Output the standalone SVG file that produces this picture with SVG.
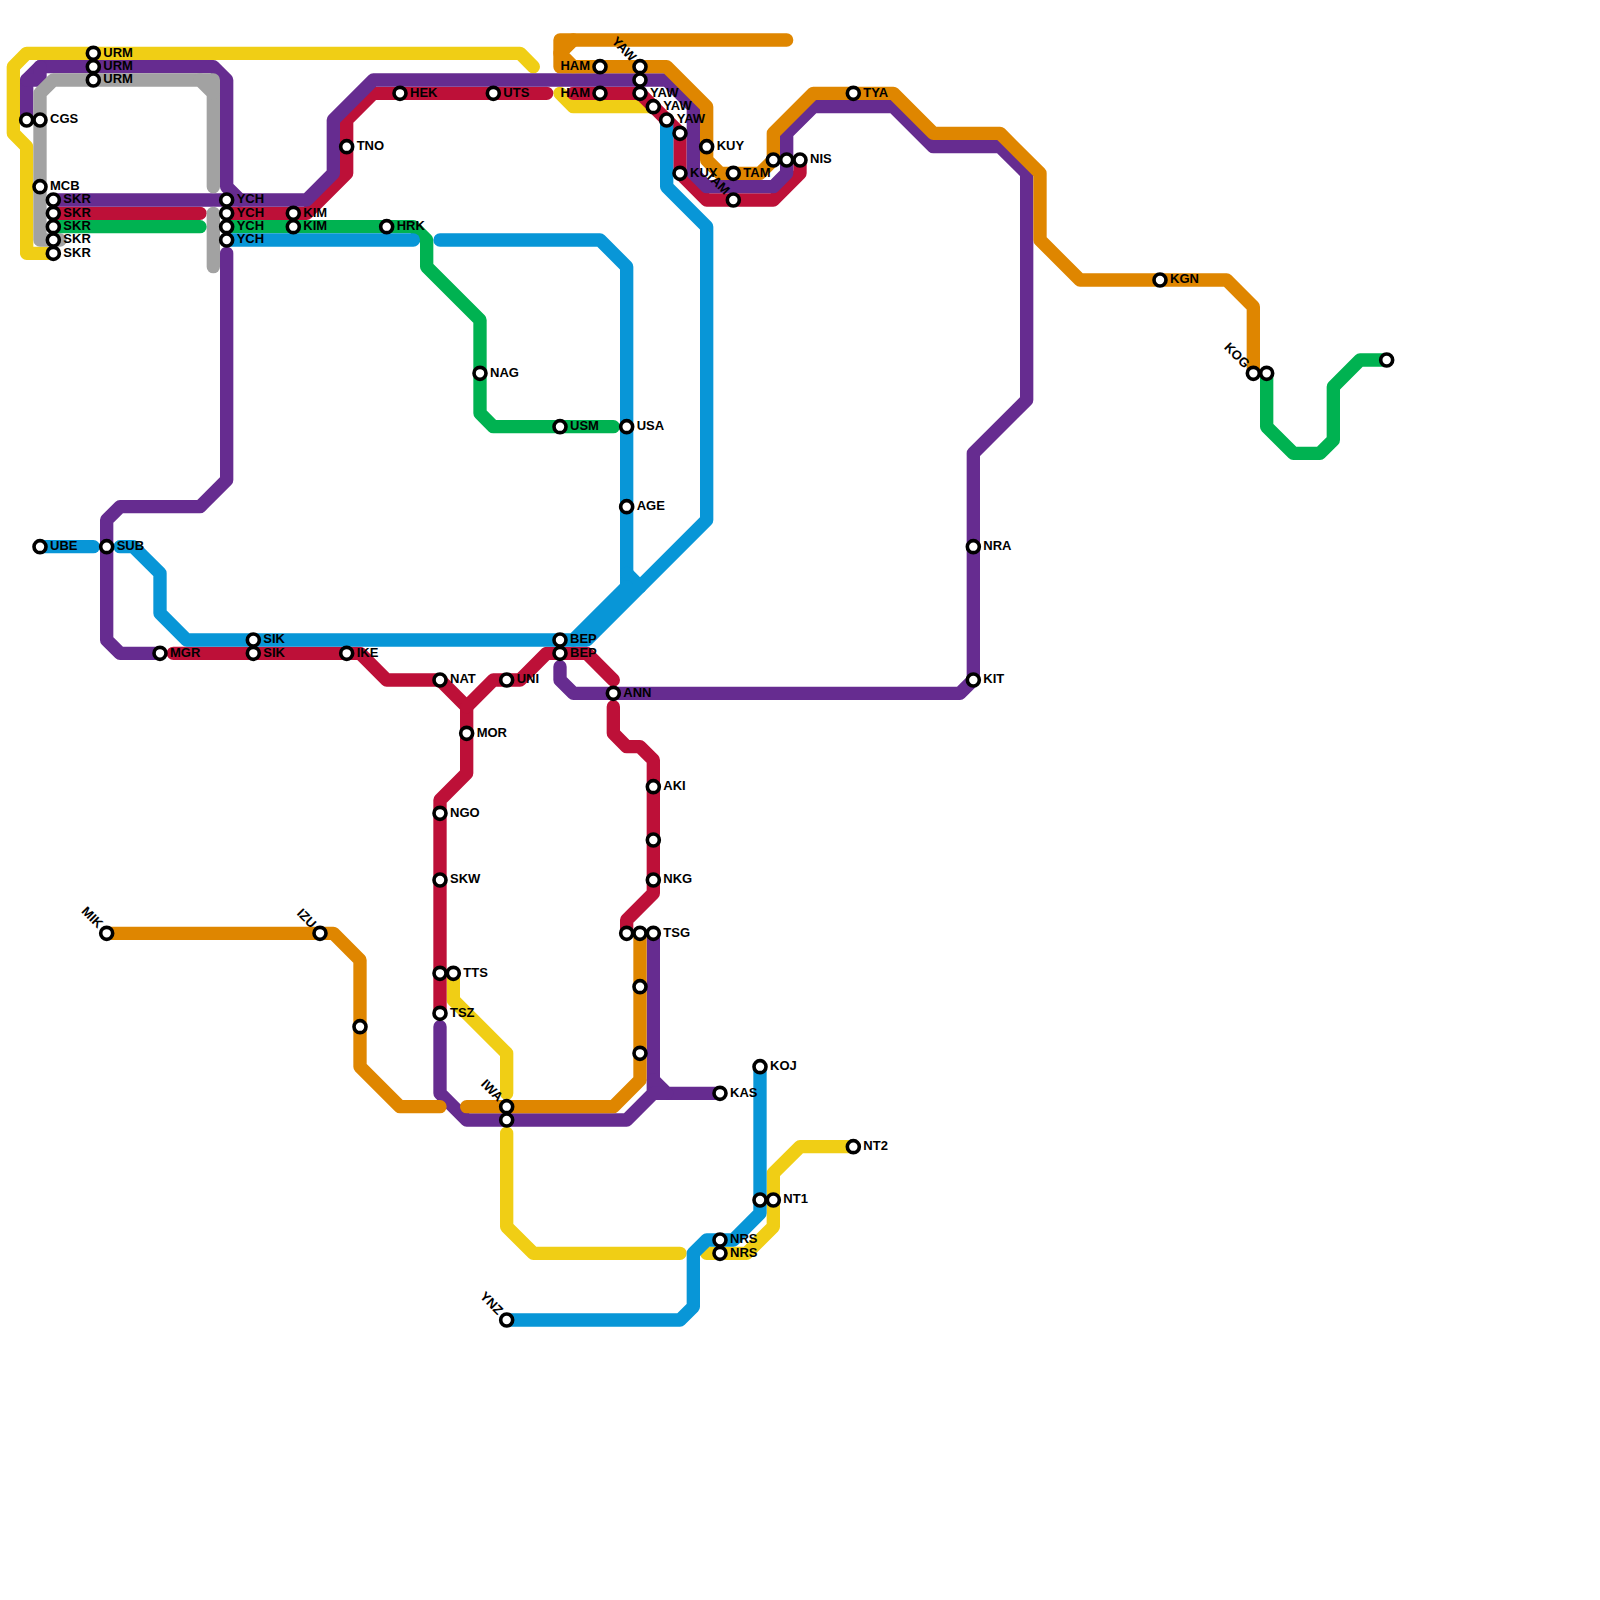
<svg xmlns="http://www.w3.org/2000/svg" width="1600" height="1600" viewBox="0 0 1600 1600">
<style>
text{font-family:"Liberation Sans",Arial,sans-serif;font-weight:700;font-size:13px;fill:#000}
circle{fill:#fff;stroke:#000;stroke-width:3.6}
.l{fill:none;stroke-width:1;stroke-linecap:round;stroke-linejoin:round}
.y{stroke:#f0ce15}.a{stroke:#a2a2a2}.r{stroke:#bd1038}.p{stroke:#662c90}.g{stroke:#00b251}.b{stroke:#0896d7}.o{stroke:#df8600}
.e{text-anchor:end}
</style>
<rect width="1600" height="1600" fill="#fff"/>
<g id="connectors" transform="scale(13.33333)">
<g id="line-yellow" class="l y">
<path d="M4 19H2V11L1 10V5L2 4H39L40 5"/>
<path d="M42 7L43 8H49"/>
<path d="M34 73V75L38 79V82"/>
<path d="M38 85V92L40 94H51"/>
<path d="M64 86H60L58 88V92L56 94H53"/>
</g>
<g id="line-red" class="l r">
<path d="M4 16H15"/>
<path d="M17 16H23L26 13V9L28 7H41"/>
<path d="M43 7H48L51 10V13L53 15H58L60 13V12"/>
<path d="M13 49H27L29 51H33L35 53V58L33 60V76"/>
<path d="M35 53L37 51H39L41 49H44L46 51"/>
<path d="M46 53V55L47 56H48L49 57V67L47 69V70"/>
</g>
<g id="line-purple" class="l p">
<path d="M2 9V6L3 5H16L17 6V14L18 15"/>
<path d="M2 6H3V5"/>
<path d="M4 15H23L25 13V9L28 6H50L52 8V13L53 14H58L59 13V10L61 8H67L70 11H75L77 13V30L73 34V51L72 52H43L42 51V50"/>
<path d="M17 19V36L15 38H9L8 39V48L9 49H12"/>
<path d="M33 77V82L35 84H47L49 82V70"/>
<path d="M49 81L50 82H54"/>
<path d="M49 82H50"/>
</g>
<g id="line-silver" class="l a">
<path d="M4.5 18H3V7L4 6H15L16 7V14"/>
<path d="M15 6H16V7"/>
<path d="M16 16V20"/>
</g>
<g id="line-green" class="l g">
<path d="M4 17H15"/>
<path d="M17 17H31L32 18V20L36 24V31L37 32H46"/>
<path d="M95 28V32L97 34H99L100 33V29L102 27H104"/>
</g>
<g id="line-blue" class="l b">
<path d="M17 18H31"/>
<path d="M33 18H45L47 20V44"/>
<path d="M47 43L48 44"/>
<path d="M3 41H7"/>
<path d="M9 41H10L12 43V46L14 48H43L47 44"/>
<path d="M50 9V14L53 17V39L44 48H43"/>
<path d="M57 80V91L55 93H53L52 94V98L51 99H38"/>
</g>
<g id="line-orange" class="l o">
<path d="M59 3H42V5H50L53 8V12L54 13H57L58 12V10L61 7H67L70 10H75L78 13V18L81 21H92L94 23V28"/>
<path d="M43 3L42 4L43 5"/>
<path d="M8 70H25L27 72V80L30 83H33"/>
<path d="M48 70V81L46 83H35"/>
</g>
</g>
<g id="nodes">
<g id="URM1" transform="translate(93.33,53.33)"><circle r="6"/><text x="10" y="3.4">URM</text></g>
<g id="URM2" transform="translate(93.33,66.67)"><circle r="6"/><text x="10" y="3.4">URM</text></g>
<g id="URM3" transform="translate(93.33,80)"><circle r="6"/><text x="10" y="3.4">URM</text></g>
<g id="CGS0" transform="translate(26.67,120)"><circle r="6"/></g>
<g id="CGS" transform="translate(40,120)"><circle r="6"/><text x="10" y="3.4">CGS</text></g>
<g id="MCB" transform="translate(40,186.67)"><circle r="6"/><text x="10" y="3.4">MCB</text></g>
<g id="SKR1" transform="translate(53.33,200)"><circle r="6"/><text x="10" y="3.4">SKR</text></g>
<g id="SKR2" transform="translate(53.33,213.33)"><circle r="6"/><text x="10" y="3.4">SKR</text></g>
<g id="SKR3" transform="translate(53.33,226.67)"><circle r="6"/><text x="10" y="3.4">SKR</text></g>
<g id="SKR4" transform="translate(53.33,240)"><circle r="6"/><text x="10" y="3.4">SKR</text></g>
<g id="SKR5" transform="translate(53.33,253.33)"><circle r="6"/><text x="10" y="3.4">SKR</text></g>
<g id="YCH1" transform="translate(226.67,200)"><circle r="6"/><text x="10" y="3.4">YCH</text></g>
<g id="YCH2" transform="translate(226.67,213.33)"><circle r="6"/><text x="10" y="3.4">YCH</text></g>
<g id="YCH3" transform="translate(226.67,226.67)"><circle r="6"/><text x="10" y="3.4">YCH</text></g>
<g id="YCH4" transform="translate(226.67,240)"><circle r="6"/><text x="10" y="3.4">YCH</text></g>
<g id="KIM1" transform="translate(293.33,213.33)"><circle r="6"/><text x="10" y="3.4">KIM</text></g>
<g id="KIM2" transform="translate(293.33,226.67)"><circle r="6"/><text x="10" y="3.4">KIM</text></g>
<g id="HRK" transform="translate(386.67,226.67)"><circle r="6"/><text x="10" y="3.4">HRK</text></g>
<g id="TNO" transform="translate(346.67,146.67)"><circle r="6"/><text x="10" y="3.4">TNO</text></g>
<g id="HEK" transform="translate(400,93.33)"><circle r="6"/><text x="10" y="3.4">HEK</text></g>
<g id="UTS" transform="translate(493.33,93.33)"><circle r="6"/><text x="10" y="3.4">UTS</text></g>
<g id="HAM1" transform="translate(600,66.67)"><circle r="6"/><text class="e" x="-10" y="3.4">HAM</text></g>
<g id="HAM2" transform="translate(600,93.33)"><circle r="6"/><text class="e" x="-10" y="3.4">HAM</text></g>
<g id="YAW1" transform="translate(640,66.67)"><circle r="6"/><text class="e" transform="translate(-9,-4.5) rotate(45)">YAW</text></g>
<g id="YAW2" transform="translate(640,80)"><circle r="6"/></g>
<g id="YAW3" transform="translate(640,93.33)"><circle r="6"/><text x="10" y="3.4">YAW</text></g>
<g id="YAW4" transform="translate(653.33,106.67)"><circle r="6"/><text x="10" y="3.4">YAW</text></g>
<g id="YAW5" transform="translate(666.67,120)"><circle r="6"/><text x="10" y="3.4">YAW</text></g>
<g id="YAW6" transform="translate(680,133.33)"><circle r="6"/></g>
<g id="KUY1" transform="translate(706.67,146.67)"><circle r="6"/><text x="10" y="3.4">KUY</text></g>
<g id="KUY2" transform="translate(680,173.33)"><circle r="6"/><text x="10" y="3.4">KUY</text></g>
<g id="TAM1" transform="translate(733.33,173.33)"><circle r="6"/><text x="10" y="3.4">TAM</text></g>
<g id="TAM2" transform="translate(733.33,200)"><circle r="6"/><text class="e" transform="translate(-9,-4.5) rotate(45)">TAM</text></g>
<g id="NIS1" transform="translate(773.33,160)"><circle r="6"/></g>
<g id="NIS2" transform="translate(786.67,160)"><circle r="6"/></g>
<g id="NIS3" transform="translate(800,160)"><circle r="6"/><text x="10" y="3.4">NIS</text></g>
<g id="TYA" transform="translate(853.33,93.33)"><circle r="6"/><text x="10" y="3.4">TYA</text></g>
<g id="KGN" transform="translate(1160,280)"><circle r="6"/><text x="10" y="3.4">KGN</text></g>
<g id="KOG1" transform="translate(1253.33,373.33)"><circle r="6"/><text class="e" transform="translate(-9,-4.5) rotate(45)">KOG</text></g>
<g id="KOG2" transform="translate(1266.67,373.33)"><circle r="6"/></g>
<g id="G-END" transform="translate(1386.67,360)"><circle r="6"/></g>
<g id="NAG" transform="translate(480,373.33)"><circle r="6"/><text x="10" y="3.4">NAG</text></g>
<g id="USM" transform="translate(560,426.67)"><circle r="6"/><text x="10" y="3.4">USM</text></g>
<g id="USA" transform="translate(626.67,426.67)"><circle r="6"/><text x="10" y="3.4">USA</text></g>
<g id="AGE" transform="translate(626.67,506.67)"><circle r="6"/><text x="10" y="3.4">AGE</text></g>
<g id="NRA" transform="translate(973.33,546.67)"><circle r="6"/><text x="10" y="3.4">NRA</text></g>
<g id="KIT" transform="translate(973.33,680)"><circle r="6"/><text x="10" y="3.4">KIT</text></g>
<g id="UBE" transform="translate(40,546.67)"><circle r="6"/><text x="10" y="3.4">UBE</text></g>
<g id="SUB" transform="translate(106.67,546.67)"><circle r="6"/><text x="10" y="3.4">SUB</text></g>
<g id="SIK1" transform="translate(253.33,640)"><circle r="6"/><text x="10" y="3.4">SIK</text></g>
<g id="SIK2" transform="translate(253.33,653.33)"><circle r="6"/><text x="10" y="3.4">SIK</text></g>
<g id="MGR" transform="translate(160,653.33)"><circle r="6"/><text x="10" y="3.4">MGR</text></g>
<g id="IKE" transform="translate(346.67,653.33)"><circle r="6"/><text x="10" y="3.4">IKE</text></g>
<g id="BEP1" transform="translate(560,640)"><circle r="6"/><text x="10" y="3.4">BEP</text></g>
<g id="BEP2" transform="translate(560,653.33)"><circle r="6"/><text x="10" y="3.4">BEP</text></g>
<g id="NAT" transform="translate(440,680)"><circle r="6"/><text x="10" y="3.4">NAT</text></g>
<g id="UNI" transform="translate(506.67,680)"><circle r="6"/><text x="10" y="3.4">UNI</text></g>
<g id="MOR" transform="translate(466.67,733.33)"><circle r="6"/><text x="10" y="3.4">MOR</text></g>
<g id="NGO" transform="translate(440,813.33)"><circle r="6"/><text x="10" y="3.4">NGO</text></g>
<g id="SKW" transform="translate(440,880)"><circle r="6"/><text x="10" y="3.4">SKW</text></g>
<g id="TTS0" transform="translate(440,973.33)"><circle r="6"/></g>
<g id="TTS" transform="translate(453.33,973.33)"><circle r="6"/><text x="10" y="3.4">TTS</text></g>
<g id="TSZ" transform="translate(440,1013.33)"><circle r="6"/><text x="10" y="3.4">TSZ</text></g>
<g id="ANN" transform="translate(613.33,693.33)"><circle r="6"/><text x="10" y="3.4">ANN</text></g>
<g id="AKI" transform="translate(653.33,786.67)"><circle r="6"/><text x="10" y="3.4">AKI</text></g>
<g id="R63" transform="translate(653.33,840)"><circle r="6"/></g>
<g id="NKG" transform="translate(653.33,880)"><circle r="6"/><text x="10" y="3.4">NKG</text></g>
<g id="TSG1" transform="translate(626.67,933.33)"><circle r="6"/></g>
<g id="TSG2" transform="translate(640,933.33)"><circle r="6"/></g>
<g id="TSG3" transform="translate(653.33,933.33)"><circle r="6"/><text x="10" y="3.4">TSG</text></g>
<g id="O74" transform="translate(640,986.67)"><circle r="6"/></g>
<g id="O79" transform="translate(640,1053.33)"><circle r="6"/></g>
<g id="MIK" transform="translate(106.67,933.33)"><circle r="6"/><text class="e" transform="translate(-9,-4.5) rotate(45)">MIK</text></g>
<g id="IZU" transform="translate(320,933.33)"><circle r="6"/><text class="e" transform="translate(-9,-4.5) rotate(45)">IZU</text></g>
<g id="O77" transform="translate(360,1026.67)"><circle r="6"/></g>
<g id="IWA1" transform="translate(506.67,1106.67)"><circle r="6"/><text class="e" transform="translate(-9,-4.5) rotate(45)">IWA</text></g>
<g id="IWA2" transform="translate(506.67,1120)"><circle r="6"/></g>
<g id="YNZ" transform="translate(506.67,1320)"><circle r="6"/><text class="e" transform="translate(-9,-4.5) rotate(45)">YNZ</text></g>
<g id="KAS" transform="translate(720,1093.33)"><circle r="6"/><text x="10" y="3.4">KAS</text></g>
<g id="KOJ" transform="translate(760,1066.67)"><circle r="6"/><text x="10" y="3.4">KOJ</text></g>
<g id="NT0" transform="translate(760,1200)"><circle r="6"/></g>
<g id="NT1" transform="translate(773.33,1200)"><circle r="6"/><text x="10" y="3.4">NT1</text></g>
<g id="NT2" transform="translate(853.33,1146.67)"><circle r="6"/><text x="10" y="3.4">NT2</text></g>
<g id="NRS1" transform="translate(720,1240)"><circle r="6"/><text x="10" y="3.4">NRS</text></g>
<g id="NRS2" transform="translate(720,1253.33)"><circle r="6"/><text x="10" y="3.4">NRS</text></g>
</g>
</svg>
